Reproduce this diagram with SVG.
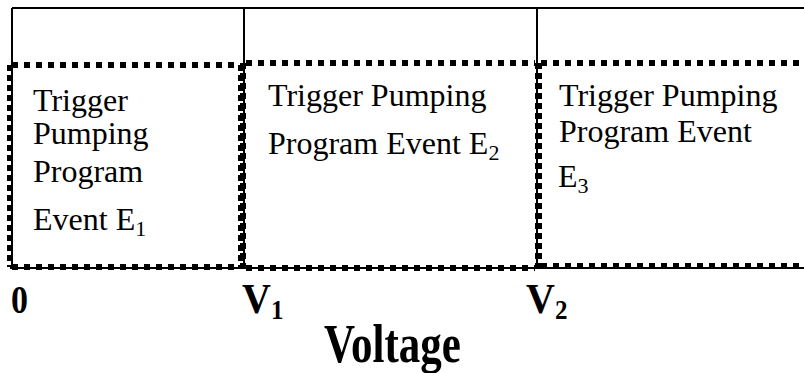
<svg xmlns="http://www.w3.org/2000/svg" width="804" height="373" viewBox="0 0 804 373">
<style>
.frame{stroke:#000;stroke-width:2;fill:none}
.dh{stroke:#000;stroke-width:6;fill:none;stroke-dasharray:6 6}
.dv{stroke:#000;stroke-width:6;fill:none;stroke-dasharray:6 4}
.t{font-family:"Liberation Serif","Times New Roman",serif;font-size:32px;fill:#000}
.s{font-size:22px}
.b{font-family:"Liberation Serif","Times New Roman",serif;font-weight:bold;fill:#000}
</style>
<rect width="804" height="373" fill="#fff"/>
<g id="connectors">
<path class="frame" d="M12,8 H804 M12,8 V268 M244,8 V268 M537,8 V268 M10,268 H804"/>
</g>
<g id="node-e1">
<path class="dh" d="M12,65 H240 M12,267 H240"/>
<path class="dv" d="M10,65 V267 M241,65 V267"/>
<text class="t" x="33" y="111">Trigger</text>
<text class="t" x="33" y="144">Pumping</text>
<text class="t" x="33" y="182">Program</text>
<text class="t" x="33" y="230">Event E<tspan class="s" dy="6">1</tspan></text>
</g>
<g id="node-e2">
<path class="dh" d="M246,63 H535 M246,268 H535"/>
<path class="dv" d="M243,63 V268 M538,63 V268"/>
<text class="t" x="268" y="106">Trigger Pumping</text>
<text class="t" x="268" y="154">Program Event E<tspan class="s" dy="6">2</tspan></text>
</g>
<g id="node-e3">
<path class="dh" d="M541,63 H804 M541,266 H804"/>
<path class="dv" d="M539,63 V266"/>
<text class="t" x="559" y="106">Trigger Pumping</text>
<text class="t" x="559" y="142">Program Event</text>
<text class="t" x="558" y="187">E<tspan class="s" dy="6">3</tspan></text>
</g>
<g id="axis-labels">
<text class="b" font-size="34" transform="translate(11,313) scale(1,1.15)">0</text>
<text class="b" font-size="40" transform="translate(242,313) scale(1,1.05)">V<tspan font-size="25" dy="6">1</tspan></text>
<text class="b" font-size="40" transform="translate(526,313) scale(1,1.05)">V<tspan font-size="25" dy="6">2</tspan></text>
<text class="b" font-size="43" transform="translate(324,362) scale(1,1.3)">Voltage</text>
</g>
</svg>
